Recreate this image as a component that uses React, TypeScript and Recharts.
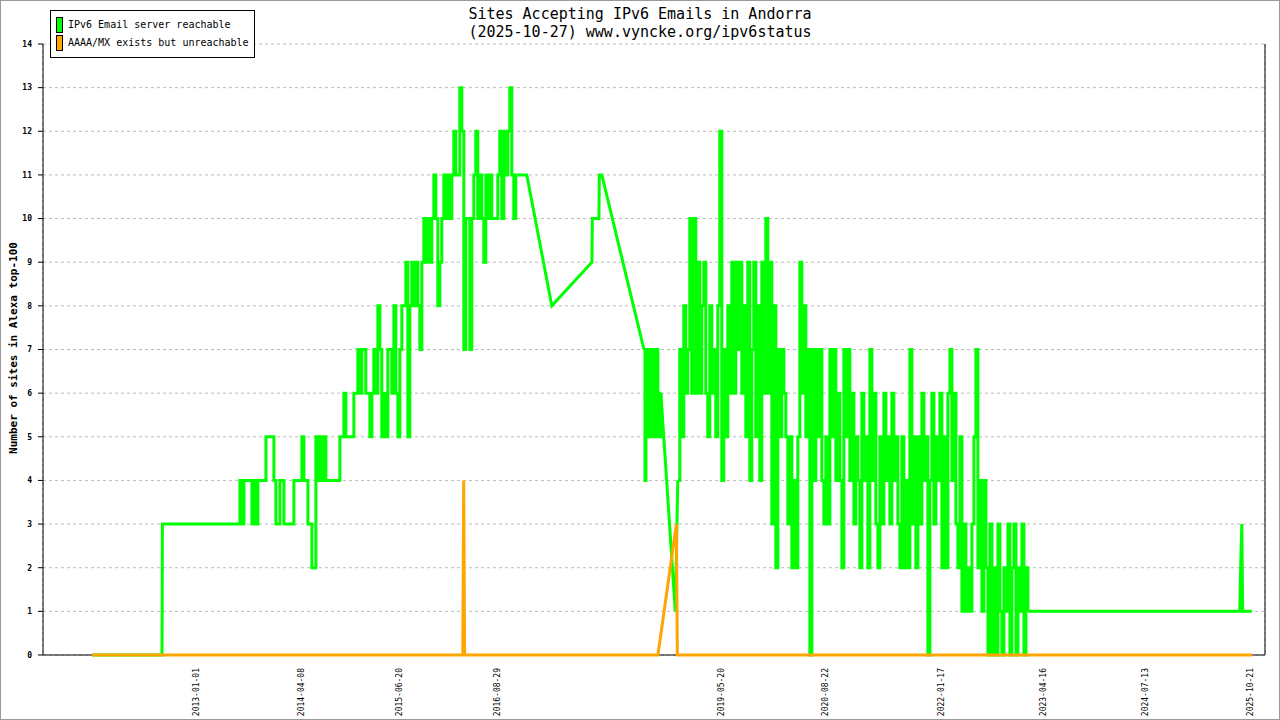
import { LineChart, Line, XAxis, YAxis, CartesianGrid } from "recharts"

const DAY = 86400000
const toTime = (iso: string) => Date.parse(iso + "T00:00:00Z")

const labelDates = [
    "2013-01-01", "2014-04-08", "2015-06-20", "2016-08-29", "2019-05-20",
    "2020-08-22", "2022-01-17", "2023-04-16", "2024-07-13", "2025-10-21"
]

const yTicks = [0, 1, 2, 3, 4, 5, 6, 7, 8, 9, 10, 11, 12, 13, 14]

// IPv6 Email server reachable
const reachableStart: [string, number][] = [
    ["2011-09-23", 0], ["2012-07-30", 0], ["2012-08-01", 3]
]

// roughly evenly sampled, 2013-07-02 .. 2016-11-25
const reachable2013to2016 = [
    3, 4, 3, 4, 4, 4, 4, 3, 4, 3,
    4, 4, 4, 4, 5, 5, 5, 5, 4, 3,
    3, 4, 4, 3, 3, 3, 3, 3, 4, 4,
    4, 4, 5, 4, 4, 3, 3, 2, 2, 5,
    4, 5, 4, 5, 4, 4, 4, 4, 4, 4,
    4, 5, 5, 6, 5, 5, 5, 5, 6, 6,
    7, 6, 7, 7, 6, 6, 5, 6, 7, 6,
    8, 7, 5, 6, 5, 7, 7, 6, 8, 6,
    5, 7, 8, 8, 9, 5, 8, 9, 8, 9,
    8, 7, 9, 10, 9, 10, 9, 10, 11, 10,
    8, 9, 10, 11, 10, 11, 10, 11, 12, 11,
    11, 13, 12, 7, 10, 10, 7, 10, 11, 12,
    10, 11, 10, 9, 11, 10, 11, 10, 10, 10,
    11, 12, 10, 12, 11, 12, 13, 11, 10, 11,
    11
]

const reachableGap2017: [string, number][] = [
    ["2017-01-04", 11], ["2017-04-25", 8], ["2017-10-20", 9], ["2017-10-22", 10],
    ["2017-11-20", 10], ["2017-11-22", 11], ["2017-12-03", 11]
]

// 2018-06-08 .. 2018-08-22
const reachableMid2018 = [7, 4, 7, 5, 7, 5, 6, 7, 5, 7, 5, 7, 5, 7, 5, 6, 5, 6]

const reachableLate2018: [string, number][] = [["2018-10-25", 1]]

// 2018-11-05 .. 2023-02-06
const reachable2018to2023 = [
    4, 7, 5, 8, 6, 7, 10, 6, 10, 6,
    9, 6, 8, 9, 6, 5, 8, 6, 7, 5,
    8, 12, 4, 7, 5, 8, 6, 9, 6, 9,
    7, 9, 6, 8, 5, 9, 4, 7, 9, 5,
    8, 4, 9, 6, 10, 6, 9, 3, 8, 2,
    7, 5, 7, 6, 5, 3, 5, 2, 4, 2,
    5, 9, 6, 8, 5, 7, 0, 7, 4, 7,
    5, 7, 4, 3, 5, 3, 7, 5, 7, 4,
    6, 4, 2, 7, 5, 7, 4, 6, 3, 5,
    4, 2, 6, 4, 5, 2, 7, 4, 6, 3,
    2, 5, 3, 6, 4, 5, 3, 6, 4, 5,
    3, 2, 5, 2, 4, 2, 7, 3, 5, 2,
    5, 3, 6, 4, 5, 0, 4, 6, 3, 5,
    4, 6, 2, 5, 2, 6, 7, 4, 6, 3,
    2, 5, 1, 3, 1, 2, 1, 3, 5, 7,
    2, 4, 1, 4, 2, 0, 3, 0, 2, 0,
    3, 1, 0, 2, 1, 3, 0, 2, 3, 0,
    2, 1, 3, 0, 2, 1
]

const reachableEnd: [string, number][] = [
    ["2025-09-03", 1], ["2025-09-07", 2], ["2025-09-12", 3], ["2025-09-16", 1], ["2025-10-27", 1]
]

// AAAA/MX exists but unreachable
const unreachable: [string, number][] = [
    ["2011-09-23", 0], ["2016-03-26", 0], ["2016-03-28", 2], ["2016-03-30", 4],
    ["2016-04-03", 0], ["2018-08-09", 0], ["2018-10-30", 3], ["2018-11-03", 0],
    ["2025-10-27", 0]
]

type Pt = { t: number, v: number }

const points = (list: [string, number][]): Pt[] => list.map(([d, v]) => ({ t: toTime(d), v }))

const spread = (from: string, to: string, values: number[]): Pt[] => {
    const a = toTime(from)
    const b = toTime(to)
    return values.map((v, i) => ({ t: a + (b - a) * i / (values.length - 1), v }))
}

const block1 = spread("2013-07-02", "2016-11-25", reachable2013to2016)
const block2 = spread("2018-06-08", "2018-08-22", reachableMid2018)
const block3 = spread("2018-11-05", "2023-02-06", reachable2018to2023)
const last = (a: Pt[]) => a[a.length - 1]

// dense daily runs are drawn as steps, the gaps between runs as straight lines
const stepParts = [block1, block2, block3]
const linearParts = [
    [...points(reachableStart), block1[0]],
    [last(block1), ...points(reachableGap2017), block2[0]],
    [last(block2), ...points(reachableLate2018), block3[0]],
    [last(block3), ...points(reachableEnd)]
]

const unreachableData = points(unreachable)

const domain = [toTime("2011-02-18"), toTime("2025-12-24")]
const labelTicks = labelDates.map(toTime)
const gridTicks = Array.from({ length: 24 }, (_, k) => toTime("2011-09-26") + k * 216.75 * DAY)

const mono = "'DejaVu Sans Mono', monospace"
const GREEN = "#00ff00"
const ORANGE = "#ffa500"

function DateTick(props: any) {
    const { x, y, payload } = props
    const d = new Date(payload.value).toISOString().slice(0, 10)
    return (
        <text
            x={x}
            y={y}
            transform={`rotate(-90 ${x} ${y})`}
            textAnchor="end"
            dominantBaseline="central"
            fontFamily={mono}
            fontSize={8}
            fill="#000"
        >
            {d}
        </text>
    )
}

export default function App() {

    return (

        <div style={{ position: "fixed", left: 0, top: 0, width: 1280, height: 720, background: "#fff" }}>

            <LineChart width={1280} height={720} margin={{ top: 44, right: 0, bottom: 0, left: 8 }}>

                <CartesianGrid xAxisId="grid" stroke="#bbb" strokeDasharray="3 3" />

                <XAxis
                    xAxisId="grid"
                    type="number"
                    dataKey="t"
                    domain={domain}
                    allowDataOverflow
                    ticks={gridTicks}
                    interval={0}
                    tick={false}
                    tickSize={6}
                    height={10}
                    axisLine={{ stroke: "#000" }}
                    tickLine={{ stroke: "#000" }}
                />

                <XAxis
                    xAxisId="labels"
                    type="number"
                    dataKey="t"
                    domain={domain}
                    allowDataOverflow
                    ticks={labelTicks}
                    interval={0}
                    tick={<DateTick />}
                    tickSize={0}
                    tickMargin={3}
                    height={55}
                    axisLine={false}
                    tickLine={false}
                />

                <YAxis
                    type="number"
                    domain={[0, 14]}
                    ticks={yTicks}
                    interval={0}
                    width={35}
                    tickSize={5}
                    tickMargin={6}
                    axisLine={{ stroke: "#000" }}
                    tickLine={{ stroke: "#000" }}
                    tick={{ fontFamily: mono, fontSize: 8, fontWeight: "bold", fill: "#000" }}
                />

                <YAxis
                    yAxisId="right"
                    orientation="right"
                    type="number"
                    domain={[0, 14]}
                    width={15}
                    tick={false}
                    tickLine={false}
                    axisLine={{ stroke: "#000" }}
                />

                {linearParts.map((part, i) => (
                    <Line
                        key={"lin" + i}
                        xAxisId="grid"
                        data={part}
                        dataKey="v"
                        type="linear"
                        stroke={GREEN}
                        strokeWidth={3}
                        dot={false}
                        activeDot={false}
                        isAnimationActive={false}
                        zIndex={600}
                    />
                ))}

                {stepParts.map((part, i) => (
                    <Line
                        key={"step" + i}
                        xAxisId="grid"
                        data={part}
                        dataKey="v"
                        type="stepAfter"
                        stroke={GREEN}
                        strokeWidth={3}
                        dot={false}
                        activeDot={false}
                        isAnimationActive={false}
                        zIndex={600}
                    />
                ))}

                <Line
                    xAxisId="grid"
                    data={unreachableData}
                    dataKey="v"
                    type="linear"
                    stroke={ORANGE}
                    strokeWidth={3}
                    dot={false}
                    activeDot={false}
                    isAnimationActive={false}
                    zIndex={610}
                />

            </LineChart>

            <div style={{ position: "absolute", left: 0, top: 5, width: 1280, textAlign: "center", fontFamily: mono, fontSize: 15, lineHeight: "18px", color: "#000" }}>
                <div>Sites Accepting IPv6 Emails in Andorra</div>
                <div>(2025-10-27) www.vyncke.org/ipv6status</div>
            </div>

            <div style={{ position: "absolute", left: 13, top: 348, transform: "translate(-50%, -50%) rotate(-90deg)", whiteSpace: "nowrap", fontFamily: mono, fontSize: 11, fontWeight: "bold", color: "#000" }}>
                Number of sites in Alexa top-100
            </div>

            <div style={{ position: "absolute", left: 50, top: 10, width: 205, height: 48, boxSizing: "border-box", border: "1px solid #000", background: "#fff", fontFamily: mono, fontSize: 10, color: "#000" }}>
                <div style={{ position: "absolute", left: 5, top: 6, width: 7, height: 16, boxSizing: "border-box", border: "1px solid #000", background: GREEN }} />
                <div style={{ position: "absolute", left: 17, top: 8, lineHeight: "12px" }}>IPv6 Email server reachable</div>
                <div style={{ position: "absolute", left: 5, top: 24, width: 7, height: 16, boxSizing: "border-box", border: "1px solid #000", background: ORANGE }} />
                <div style={{ position: "absolute", left: 17, top: 26, lineHeight: "12px" }}>AAAA/MX exists but unreachable</div>
            </div>

            <div style={{ position: "absolute", left: 0, top: 0, width: 1280, height: 720, boxSizing: "border-box", border: "1px solid #999", pointerEvents: "none" }} />

        </div>

    )

}
